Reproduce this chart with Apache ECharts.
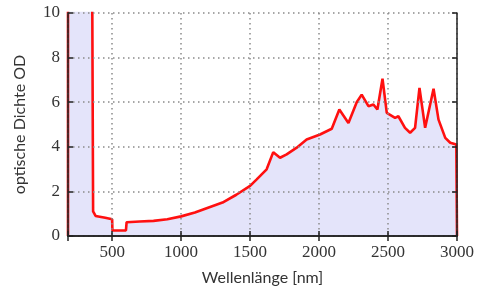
<!DOCTYPE html>
<html lang="de">
<head>
<meta charset="UTF-8">
<title>optische Dichte</title>
<script src="https://cdn.jsdelivr.net/npm/echarts@6/dist/echarts.min.js"></script>
<style>
  html, body { margin: 0; padding: 0; background: #fff; }
</style>
</head>
<body>
<div id="main" style="width:478px;height:292px;"></div>
<script type="text/javascript">
// Wellenlänge in nm
var wavelength = [180, 180, 355, 362, 380, 450, 500, 502, 600, 605, 700, 800, 900, 1000,
  1100, 1200, 1300, 1400, 1500, 1548, 1620, 1668, 1717, 1765, 1838, 1910, 2007, 2092,
  2147, 2213, 2273, 2309, 2358, 2394, 2423, 2460, 2491, 2551, 2575, 2623, 2660, 2696,
  2728, 2769, 2830, 2866, 2915, 2951, 2995, 3000, 3000];
// optische Dichte OD
var density = [0, 12, 12, 1.1, 0.9, 0.82, 0.75, 0.25, 0.25, 0.62, 0.65, 0.68, 0.75, 0.88,
  1.05, 1.28, 1.5, 1.85, 2.25, 2.54, 2.99, 3.76, 3.51, 3.66, 3.96, 4.33, 4.55, 4.81,
  5.67, 5.07, 6.0, 6.34, 5.82, 5.9, 5.67, 7.05, 5.52, 5.3, 5.37, 4.85, 4.63, 4.85,
  6.64, 4.85, 6.6, 5.22, 4.4, 4.18, 4.1, 4.1, 0];
var xLabels = [500, 1000, 1500, 2000, 2500, 3000];

var myChart = echarts.init(document.getElementById('main'));

var pts = [];
for (var i = 0; i < wavelength.length; i++) {
  pts.push([wavelength[i], density[i]]);
}

var serif = '"Liberation Serif", "DejaVu Serif", serif';
var sans = 'Lato, "DejaVu Sans", sans-serif';
var dotted = { show: true, lineStyle: { color: '#8a8a8a', type: [1.5, 3.5], width: 1.5 } };
var plain = function (v) { return String(v); };

option = {
  animation: false,
  grid: { left: 68, right: 21, top: 13, bottom: 56 },
  xAxis: [{
    type: 'value', min: 180, max: 3000, splitNumber: 6,
    name: 'Wellenlänge [nm]', nameLocation: 'middle', nameGap: 34,
    nameTextStyle: { fontFamily: sans, fontSize: 16, color: '#333' },
    axisLine: { lineStyle: { color: '#222', width: 1.5 } },
    axisTick: { inside: true, length: 5, lineStyle: { color: '#222', width: 1.5 } },
    axisLabel: { customValues: xLabels, formatter: plain, fontFamily: serif, fontSize: 17, color: '#333', margin: 8 },
    splitLine: dotted
  }, {
    type: 'value', min: 180, max: 3000, splitNumber: 6, position: 'top',
    axisLine: { show: true, lineStyle: { color: '#222', width: 1.5 } },
    axisTick: { inside: true, length: 5, lineStyle: { color: '#222', width: 1.5 } },
    axisLabel: { show: false }, splitLine: { show: false }
  }],
  yAxis: [{
    type: 'value', min: 0, max: 10, interval: 2,
    name: 'optische Dichte OD', nameLocation: 'middle', nameGap: 40,
    nameTextStyle: { fontFamily: sans, fontSize: 16, color: '#333' },
    axisLine: { show: true, lineStyle: { color: '#222', width: 1.5 } },
    axisTick: { show: true, inside: true, length: 5, lineStyle: { color: '#222', width: 1.5 } },
    axisLabel: { fontFamily: serif, fontSize: 17, color: '#333', margin: 8 },
    splitLine: dotted
  }, {
    type: 'value', min: 0, max: 10, interval: 2, position: 'right',
    axisLine: { show: true, lineStyle: { color: '#222', width: 1.5 } },
    axisTick: { show: true, inside: true, length: 5, lineStyle: { color: '#222', width: 1.5 } },
    axisLabel: { show: false }, splitLine: { show: false }
  }],
  series: [{
    type: 'line',
    data: pts,
    symbol: 'none',
    clip: true,
    lineStyle: { color: '#ff1010', width: 2.6 },
    areaStyle: { color: '#e4e4fa', opacity: 1 },
    z: -1
  }]
};
myChart.setOption(option);
</script>
</body>
</html>
